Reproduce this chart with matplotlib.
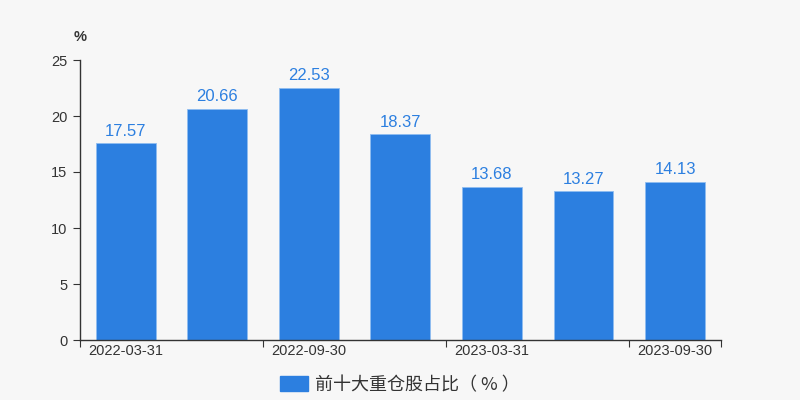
import matplotlib
matplotlib.use("Agg")
import matplotlib.pyplot as plt
from matplotlib.patches import Patch

dates = ["2022-03-31", "2022-06-30", "2022-09-30", "2022-12-31",
         "2023-03-31", "2023-06-30", "2023-09-30"]
values = [17.57, 20.66, 22.53, 18.37, 13.68, 13.27, 14.13]
y_ticks = [0, 5, 10, 15, 20, 25]
legend_label = "前十大重仓股占比（ % ）"

bar_color = "#2c7fe0"
bg = "#f7f7f7"
text_color = "#333333"

fig = plt.figure(figsize=(8, 4), dpi=100, facecolor=bg)
ax = fig.add_axes([0.1, 0.15, 0.801, 0.70], facecolor=bg)

x = list(range(len(dates)))
bars = ax.bar(x, values, width=0.655, color=bar_color,
              edgecolor="#8fbdf0", linewidth=0.6)

for xi, v in zip(x, values):
    ax.text(xi, v + 0.4, f"{v:.2f}", ha="center", va="bottom",
            color=bar_color, fontsize=12, family="Liberation Sans")

ax.set_xlim(-0.5, len(dates) - 0.5)
ax.set_ylim(0, 25)

# boundary ticks every two categories, labels at category centres
ax.set_xticks([-0.5, 1.5, 3.5, 5.5, 6.5])
ax.set_xticklabels([])
ax.set_xticks([0, 2, 4, 6], minor=True)
ax.set_xticklabels([dates[i] for i in [0, 2, 4, 6]], minor=True,
                   fontsize=10.5, color=text_color, family="Liberation Sans")
ax.tick_params(axis="x", which="major", length=5, color=text_color)
ax.tick_params(axis="x", which="minor", length=0, pad=3)

ax.set_yticks(y_ticks)
ax.set_yticklabels([str(t) for t in y_ticks], fontsize=10.5,
                   color=text_color, family="Liberation Sans")
ax.tick_params(axis="y", length=5, color=text_color, pad=4)

for s in ["top", "right"]:
    ax.spines[s].set_visible(False)
for s in ["left", "bottom"]:
    ax.spines[s].set_color(text_color)
    ax.spines[s].set_linewidth(1)

fig.text(0.1, 0.908, "%", ha="center", va="center", fontsize=10.5,
         color=text_color, family="Liberation Sans", weight="bold")

handle = Patch(facecolor=bar_color, edgecolor=bar_color)
fig.legend([handle], [legend_label], loc="center", bbox_to_anchor=(0.5, 0.038),
           frameon=False, handlelength=1.5, handleheight=0.9, handletextpad=0.4,
           prop={"family": ["Noto Sans CJK SC", "DejaVu Sans"], "size": 13},
           labelcolor=text_color)

fig.savefig("out.png", dpi=100, facecolor=bg)
